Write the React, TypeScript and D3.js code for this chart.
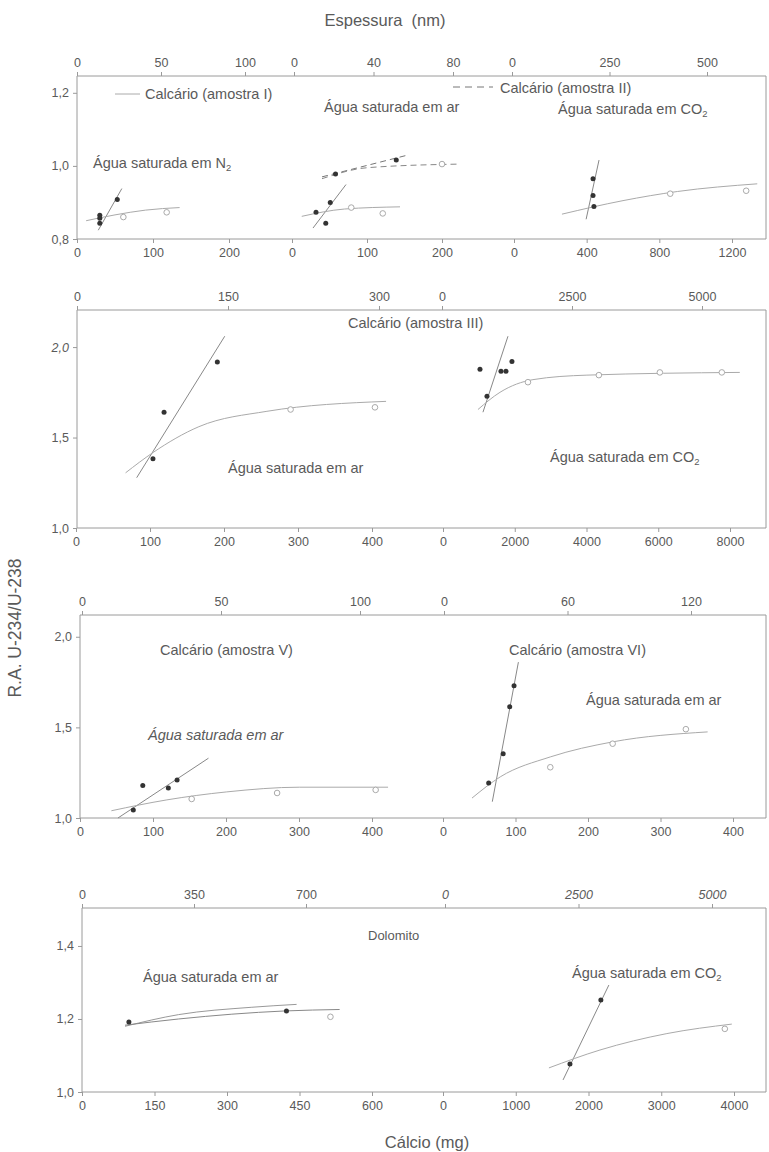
import React, { useEffect, useRef } from 'react';
import * as d3 from 'd3';

type P = [number, number];

// ---- row 1: Calcário I (solid) / II (dashed)
const n2Filled: P[] = [[30, 0.865], [30, 0.857], [30, 0.843], [53, 0.908]];
const n2Open: P[] = [[61, 0.86], [118, 0.873]];
const n2Steep: P[] = [[28, 0.824], [59, 0.938]];
const n2Curve: P[] = [[12, 0.85], [50, 0.866], [90, 0.879], [135, 0.886]];

const ar1Filled: P[] = [[32, 0.873], [45, 0.843], [51, 0.9], [58, 0.978], [139, 1.016]];
const ar1Open: P[] = [[79, 0.886], [121, 0.87], [200, 1.005]];
const ar1Steep: P[] = [[28, 0.83], [72, 0.949]];
const ar1Curve: P[] = [[13, 0.862], [70, 0.882], [144, 0.888]];
const ar2Steep: P[] = [[40, 0.97], [155, 1.03]];
const ar2Curve: P[] = [[40, 0.965], [100, 0.995], [224, 1.005]];

const co1Filled: P[] = [[435, 0.965], [435, 0.919], [440, 0.889]];
const co1Open: P[] = [[860, 0.924], [1278, 0.932]];
const co1Steep: P[] = [[397, 0.854], [468, 1.016]];
const co1Curve: P[] = [[264, 0.868], [600, 0.905], [900, 0.93], [1339, 0.951]];

// ---- row 2: Calcário III
const ar3Filled: P[] = [[104, 1.383], [119, 1.64], [191, 1.917]];
const ar3Open: P[] = [[290, 1.655], [404, 1.667]];
const ar3Steep: P[] = [[82, 1.278], [201, 2.06]];
const ar3Curve: P[] = [[67, 1.305], [104, 1.417], [166, 1.56], [258, 1.645], [419, 1.7]];

const co3Filled: P[] = [[1031, 1.878], [1226, 1.728], [1616, 1.867], [1755, 1.867], [1922, 1.92]];
const co3Open: P[] = [[2368, 1.806], [4345, 1.845], [6045, 1.86], [7772, 1.86]];
const co3Steep: P[] = [[1114, 1.64], [1811, 2.06]];
const co3Curve: P[] = [[975, 1.655], [1588, 1.75], [2507, 1.82], [4011, 1.845], [8273, 1.86]];

// ---- row 3: Calcário V / VI
const ar5Filled: P[] = [[73, 1.044], [86, 1.18], [121, 1.166], [133, 1.21]];
const ar5Open: P[] = [[153, 1.105], [270, 1.138], [405, 1.155]];
const ar5Steep: P[] = [[52, 1.0], [176, 1.33]];
const ar5Curve: P[] = [[43, 1.04], [119, 1.1], [201, 1.144], [301, 1.17], [422, 1.17]];

const ar6Filled: P[] = [[63, 1.193], [83, 1.354], [92, 1.614], [98, 1.73]];
const ar6Open: P[] = [[148, 1.28], [234, 1.41], [335, 1.49]];
const ar6Steep: P[] = [[68, 1.09], [104, 1.86]];
const ar6Curve: P[] = [[40, 1.11], [79, 1.227], [148, 1.337], [234, 1.42], [365, 1.475]];

// ---- row 4: Dolomito
const doArFilled: P[] = [[97, 1.192], [423, 1.222]];
const doArOpen: P[] = [[514, 1.206]];
const doArLineA: P[] = [[89, 1.18], [200, 1.212], [350, 1.232], [444, 1.24]];
const doArLineB: P[] = [[89, 1.183], [200, 1.2], [420, 1.222], [533, 1.226]];

const doCoFilled: P[] = [[1745, 1.077], [2170, 1.252]];
const doCoOpen: P[] = [[3874, 1.173]];
const doCoSteep: P[] = [[1650, 1.033], [2280, 1.293]];
const doCoCurve: P[] = [[1456, 1.066], [2157, 1.115], [3077, 1.16], [3970, 1.186]];

const TXT = '#5a5a5a';
const AXIS = '#9a9a9a';
const RIGHT = 766;
const NOTE = 14.5;

const rows = [
  { top: 76, bottom: 239, left: 77, y: [0.8, 1.246], yTicks: [0.8, 1.0, 1.2] },
  { top: 310, bottom: 528, left: 77, y: [1.0, 2.205], yTicks: [1.0, 1.5, 2.0] },
  { top: 615, bottom: 818, left: 80, y: [1.0, 2.12], yTicks: [1.0, 1.5, 2.0] },
  { top: 908, bottom: 1092, left: 82, y: [1.0, 1.504], yTicks: [1.0, 1.2, 1.4] },
];

type Sub = {
  row: number;
  bot: [number, number, number[]]; // x0, x at max tick, ticks
  topx: [number, number, number[]];
  topItalic?: boolean;
  lines: { pts: P[]; dash?: boolean; color: string; smooth?: boolean }[];
  filled: P[];
  open: P[];
};

const subs: Sub[] = [
  {
    row: 0, bot: [77, 229, [0, 100, 200]], topx: [77, 245, [0, 50, 100]],
    lines: [{ pts: n2Steep, color: '#888' }, { pts: n2Curve, color: '#aaa', smooth: true }],
    filled: n2Filled, open: n2Open,
  },
  {
    row: 0, bot: [292, 442, [0, 100, 200]], topx: [294, 453, [0, 40, 80]],
    lines: [
      { pts: ar1Steep, color: '#888' }, { pts: ar1Curve, color: '#aaa', smooth: true },
      { pts: ar2Steep, color: '#777', dash: true }, { pts: ar2Curve, color: '#888', dash: true, smooth: true },
    ],
    filled: ar1Filled, open: ar1Open,
  },
  {
    row: 0, bot: [514, 732, [0, 400, 800, 1200]], topx: [512, 707, [0, 250, 500]],
    lines: [{ pts: co1Steep, color: '#888' }, { pts: co1Curve, color: '#aaa', smooth: true }],
    filled: co1Filled, open: co1Open,
  },
  {
    row: 1, bot: [76, 372, [0, 100, 200, 300, 400]], topx: [77, 379, [0, 150, 300]],
    lines: [{ pts: ar3Steep, color: '#888' }, { pts: ar3Curve, color: '#aaa', smooth: true }],
    filled: ar3Filled, open: ar3Open,
  },
  {
    row: 1, bot: [443, 730, [0, 2000, 4000, 6000, 8000]], topx: [442, 702, [0, 2500, 5000]],
    lines: [{ pts: co3Steep, color: '#888' }, { pts: co3Curve, color: '#aaa', smooth: true }],
    filled: co3Filled, open: co3Open,
  },
  {
    row: 2, bot: [80, 372, [0, 100, 200, 300, 400]], topx: [82, 360, [0, 50, 100]],
    lines: [{ pts: ar5Steep, color: '#888' }, { pts: ar5Curve, color: '#aaa', smooth: true }],
    filled: ar5Filled, open: ar5Open,
  },
  {
    row: 2, bot: [443, 733, [0, 100, 200, 300, 400]], topx: [444, 691, [0, 60, 120]],
    lines: [{ pts: ar6Steep, color: '#888' }, { pts: ar6Curve, color: '#aaa', smooth: true }],
    filled: ar6Filled, open: ar6Open,
  },
  {
    row: 3, bot: [82, 372, [0, 150, 300, 450, 600]], topx: [82, 306, [0, 350, 700]],
    lines: [{ pts: doArLineA, color: '#999', smooth: true }, { pts: doArLineB, color: '#888', smooth: true }],
    filled: doArFilled, open: doArOpen,
  },
  {
    row: 3, bot: [443, 734, [0, 1000, 2000, 3000, 4000]], topx: [445, 712, [0, 2500, 5000]], topItalic: true,
    lines: [{ pts: doCoSteep, color: '#888' }, { pts: doCoCurve, color: '#aaa', smooth: true }],
    filled: doCoFilled, open: doCoOpen,
  },
];

// annotations: [text, subscript, x, y, italic, size]
const notes: [string, string, number, number, boolean, number][] = [
  ['Água saturada em N', '2', 93, 168, false, NOTE],
  ['Água saturada em ar', '', 324, 112, false, NOTE],
  ['Água saturada em CO', '2', 558, 114, false, NOTE],
  ['Calcário (amostra III)', '', 348, 328, false, NOTE],
  ['Água saturada em ar', '', 228, 473, false, NOTE],
  ['Água saturada em CO', '2', 550, 462, false, NOTE],
  ['Calcário (amostra V)', '', 160, 655, false, NOTE],
  ['Água saturada em ar', '', 148, 740, true, NOTE],
  ['Calcário (amostra VI)', '', 509, 655, false, NOTE],
  ['Água saturada em ar', '', 586, 705, false, NOTE],
  ['Dolomito', '', 368, 940, false, 13],
  ['Água saturada em ar', '', 143, 982, false, NOTE],
  ['Água saturada em CO', '2', 572, 978, false, NOTE],
];

const fmt = (v: number) => String(v).replace('.', ',');
const fmtY = (v: number) => v.toFixed(1).replace('.', ',');

const drawChart = (el: SVGSVGElement) => {
  const svg = d3.select(el);
  svg.selectAll('*').remove();
  svg.style('font-family', 'Arial, "Liberation Sans", sans-serif');

  const yScales = rows.map(r => d3.scaleLinear().domain(r.y).range([r.bottom, r.top]));

  rows.forEach((r, i) => {
    const g = svg.append('g');
    // box: top line, right line, left & bottom axes
    g.append('path')
      .attr('d', `M${r.left},${r.top}H${RIGHT}V${r.bottom}H${r.left}Z`)
      .attr('fill', 'none').attr('stroke', AXIS).attr('stroke-width', 1);
    const ax = g.append('g').attr('transform', `translate(${r.left},0)`)
      .call(d3.axisLeft(yScales[i]).tickValues(r.yTicks).tickFormat(d => fmtY(+d)).tickSize(4).tickPadding(4));
    ax.select('.domain').remove();
    ax.selectAll('line').attr('stroke', AXIS);
    ax.selectAll<SVGTextElement, number>('text').attr('fill', TXT).attr('font-size', 12.5)
      .attr('font-style', d => (i === 1 && d === 2 ? 'italic' : 'normal'));
  });

  subs.forEach(s => {
    const r = rows[s.row];
    const y = yScales[s.row];
    const b = s.bot[2];
    const t = s.topx[2];
    const xb = d3.scaleLinear().domain([0, b[b.length - 1]]).range([s.bot[0], s.bot[1]]);
    const xt = d3.scaleLinear().domain([0, t[t.length - 1]]).range([s.topx[0], s.topx[1]]);

    const gb = svg.append('g').attr('transform', `translate(0,${r.bottom})`)
      .call(d3.axisBottom(xb).tickValues(b).tickFormat(d => fmt(+d)).tickSize(4).tickPadding(5));
    gb.select('.domain').remove();
    gb.selectAll('line').attr('stroke', AXIS);
    gb.selectAll('text').attr('fill', TXT).attr('font-size', 12.5);

    const gt = svg.append('g').attr('transform', `translate(0,${r.top})`)
      .call(d3.axisTop(xt).tickValues(t).tickFormat(d => fmt(+d)).tickSize(4).tickPadding(5));
    gt.select('.domain').remove();
    gt.selectAll('line').attr('stroke', AXIS);
    gt.selectAll('text').attr('fill', TXT).attr('font-size', 12.5)
      .attr('font-style', s.topItalic ? 'italic' : 'normal');

    s.lines.forEach(l => {
      const line = d3.line<P>().x(d => xb(d[0])).y(d => y(d[1]))
        .curve(l.smooth ? d3.curveMonotoneX : d3.curveLinear);
      svg.append('path').datum(l.pts).attr('d', line)
        .attr('fill', 'none').attr('stroke', l.color).attr('stroke-width', 1)
        .attr('stroke-dasharray', l.dash ? '6,4' : null);
    });

    svg.append('g').selectAll('circle').data(s.open).join('circle')
      .attr('cx', d => xb(d[0])).attr('cy', d => y(d[1])).attr('r', 2.8)
      .attr('fill', '#fff').attr('stroke', '#aaa').attr('stroke-width', 1);
    svg.append('g').selectAll('circle').data(s.filled).join('circle')
      .attr('cx', d => xb(d[0])).attr('cy', d => y(d[1])).attr('r', 2.5)
      .attr('fill', '#333');
  });

  // annotations
  notes.forEach(([txt, sub, x, yy, it, size]) => {
    const t = svg.append('text').attr('x', x).attr('y', yy).attr('fill', TXT)
      .attr('font-size', size).attr('font-style', it ? 'italic' : 'normal');
    t.append('tspan').text(txt);
    if (sub) t.append('tspan').attr('font-size', size * 0.65).attr('dy', 3).text(sub);
  });

  // legend row 1
  svg.append('line').attr('x1', 115).attr('x2', 140).attr('y1', 94).attr('y2', 94)
    .attr('stroke', '#aaa');
  svg.append('text').attr('x', 145).attr('y', 99).attr('fill', TXT).attr('font-size', NOTE)
    .text('Calcário (amostra I)');
  svg.append('line').attr('x1', 453).attr('x2', 493).attr('y1', 87).attr('y2', 87)
    .attr('stroke', '#777').attr('stroke-dasharray', '7,5');
  svg.append('text').attr('x', 500).attr('y', 93).attr('fill', TXT).attr('font-size', NOTE)
    .text('Calcário (amostra II)');

  // titles
  svg.append('text').attr('x', 385).attr('y', 26).attr('text-anchor', 'middle')
    .attr('fill', TXT).attr('font-size', 16.5).attr('xml:space', 'preserve')
    .text('Espessura  (nm)');
  svg.append('text').attr('x', 427).attr('y', 1148).attr('text-anchor', 'middle')
    .attr('fill', TXT).attr('font-size', 16.5).text('Cálcio (mg)');
  svg.append('text').attr('transform', 'translate(21,628) rotate(-90)').attr('text-anchor', 'middle')
    .attr('fill', TXT).attr('font-size', 17.5).text('R.A. U-234/U-238');
};

export default function App() {
  const ref = useRef<SVGSVGElement>(null);
  useEffect(() => {
    if (ref.current) drawChart(ref.current);
  }, []);
  return (
    <svg ref={ref} width={769} height={1152}
      style={{ position: 'absolute', left: 0, top: 0, background: '#fff' }} />
  );
}
